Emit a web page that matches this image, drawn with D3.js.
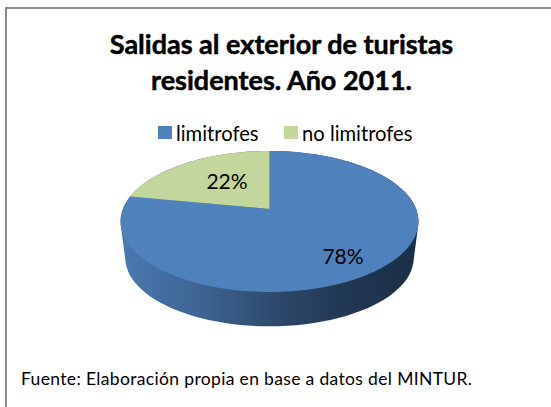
<!DOCTYPE html>
<html><head><meta charset="utf-8">
<script src="https://cdn.jsdelivr.net/npm/d3@7"></script>
<style>html,body{margin:0;padding:0;background:#fff}svg{display:block}text{font-family:Lato,"Open Sans",sans-serif;fill:#000}</style>
</head><body><svg id="c" width="551" height="407"></svg>
<script>
const categories = ["limitrofes", "no limitrofes"];
const shares = [78, 22];
const colors = ["#4f81bd", "#c3d69b"];
const titleLines = ["Salidas al exterior de turistas", "residentes. Año 2011."];
const sourceNote = "Fuente: Elaboración propia en base a datos del MINTUR.";

const svg = d3.select("#c");
const defs = svg.append("defs");
const grad = defs.append("linearGradient").attr("id","side").attr("x1","0").attr("x2","1").attr("y1","0").attr("y2","0");
[[0,"#4a79b2"],[0.3,"#3c618e"],[0.55,"#2b4668"],[0.8,"#1f3550"],[1,"#1c2f48"]].forEach(s=>grad.append("stop").attr("offset",s[0]).attr("stop-color",s[1]));

// frame
svg.append("path").attr("d","M6,407V8H551").attr("fill","none").attr("stroke","#8c8c8c").attr("stroke-width",2);

// title
titleLines.forEach((t,i)=>svg.append("text").attr("x",281.5).attr("y",[54,90][i]).attr("text-anchor","middle").attr("font-size",27).attr("font-weight",700).attr("stroke","#000").attr("stroke-width",0.5).text(t));

// legend
const legendX=[158,284], legendTextX=[176,302];
categories.forEach((c,i)=>{
  svg.append("rect").attr("x",legendX[i]).attr("y",126).attr("width",14).attr("height",13).attr("fill",colors[i]);
  svg.append("text").attr("x",legendTextX[i]).attr("y",141).attr("font-size",20.2).text(c);
});

// pie in perspective
const k=0.177, A=68.3, B=146.6, cx=269.5, cy=209;
const proj=(a,r=1,dy=0,s=1)=>{const u=r*Math.sin(a),v=r*Math.cos(a),d=1+k*v;return [cx+s*B*u/d, cy-s*A*v/d+dy];};
const line=d3.line();
const arcs=d3.pie().sort(null).value(d=>d)(shares);

// side wall
const ring=d3.range(0,361,3).map(d=>d*Math.PI/180);
const lowerRim=ring.map(a=>proj(a,1,37,0.968));
const upperRim=ring.map(a=>proj(a,1,0,1));
const hull=d3.polygonHull(lowerRim.concat(upperRim));
svg.append("path").attr("d",line(hull)+"Z").attr("fill","url(#side)");

// top slices
arcs.forEach((d,i)=>{
  const n=Math.max(2,Math.ceil((d.endAngle-d.startAngle)/0.03));
  const pts=[proj(0,0)].concat(d3.range(n+1).map(j=>proj(d.startAngle+(d.endAngle-d.startAngle)*j/n)));
  svg.append("path").attr("d",line(pts)+"Z").attr("fill",colors[i]);
});

// labels
const labelPos=[[343,264],[227,189]];
shares.forEach((v,i)=>svg.append("text").attr("x",labelPos[i][0]).attr("y",labelPos[i][1]).attr("text-anchor","middle").attr("font-size",21).text(v+"%"));

// source
svg.append("text").attr("x",21).attr("y",385).attr("font-size",17.5).attr("textLength",451).attr("lengthAdjust","spacing").text(sourceNote);
</script></body></html>
